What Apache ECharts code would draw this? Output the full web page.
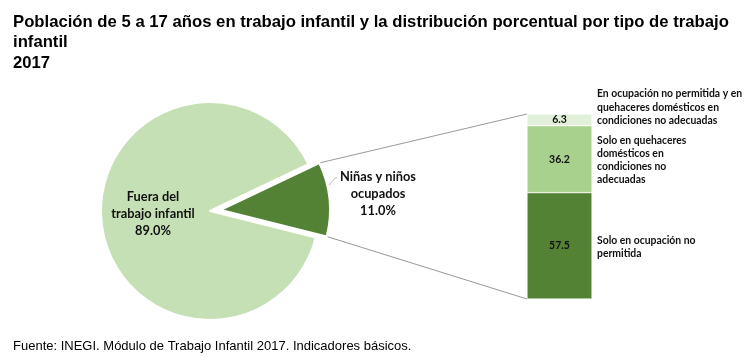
<!DOCTYPE html>
<html><head><meta charset="utf-8">
<script src="https://cdn.jsdelivr.net/npm/echarts@6/dist/echarts.min.js"></script>
<style>html,body{margin:0;padding:0;background:#fff}#c{width:744px;height:357px}</style>
</head><body><div id="c"></div>
<script>
const titleText = 'Población de 5 a 17 años en trabajo infantil y la distribución porcentual por tipo de trabajo\ninfantil\n2017';
const sourceText = 'Fuente: INEGI. Módulo de Trabajo Infantil 2017. Indicadores básicos.';
const pieNames = ['Niñas y niños\nocupados', 'Fuera del\ntrabajo infantil'];
const pieValues = [11.0, 89.0];
const barNames = ['Solo en ocupación no\npermitida', 'Solo en quehaceres\ndomésticos en\ncondiciones no\nadecuadas', 'En ocupación no permitida y en\nquehaceres domésticos en\ncondiciones no adecuadas'];
const barValues = [57.5, 36.2, 6.3];
const barCategory = ['2017'];

const pieColors = ['#548235', '#c5e0b4'];
const barColors = ['#548235', '#a9d18e', '#e2f0d9'];
const FONT = 'Lato';
const PIE_C = [210, 211], PIE_R = 109, PIE_START = 25.5, PIE_OFF = 11;
const GRID = {left: 527, top: 114, width: 65, height: 185};
const PIE_LABEL_POS = [[378, 194], [153, 213.5]];

// geometry of the exploded slice
const pieTotal = pieValues.reduce((a, b) => a + b, 0);
const span = pieValues[0] / pieTotal * 360;
const aS = PIE_START * Math.PI / 180, aE = (PIE_START - span) * Math.PI / 180, aM = (aS + aE) / 2;
const EXP_C = [PIE_C[0] + PIE_OFF * Math.cos(aM), PIE_C[1] - PIE_OFF * Math.sin(aM)];

const chart = echarts.init(document.getElementById('c'), null, {renderer: 'canvas'});

function pieSeries(center, visibleIndex) {
  return {
    type: 'pie', center: center, radius: PIE_R, startAngle: PIE_START, clockwise: true,
    emphasis: {disabled: true}, silent: true,
    labelLayout: function (p) {
      const pos = PIE_LABEL_POS[p.dataIndex];
      return {x: pos[0], y: pos[1], align: 'center', verticalAlign: 'middle'};
    },
    data: pieValues.map((v, i) => ({
      value: v, name: pieNames[i],
      itemStyle: i === visibleIndex ? {color: pieColors[i], borderColor: '#fff', borderWidth: 2} : {color: 'rgba(0,0,0,0)', borderWidth: 0},
      label: {
        show: i === visibleIndex, position: 'inside',
        formatter: p => p.name + '\n' + p.value.toFixed(1) + '%',
        fontFamily: FONT, fontWeight: 'bold', fontSize: 12.8, lineHeight: 17, color: '#111', align: 'center'
      },
      labelLine: {show: false}
    }))
  };
}

const barSeries = [];
barValues.forEach((v, i) => {
  barSeries.push({
    type: 'bar', stack: 'vals', barWidth: '100%', silent: true,
    data: [v], itemStyle: {color: barColors[i], borderColor: '#fff', borderWidth: 0.5},
    label: {show: true, position: 'inside', formatter: p => p.value.toFixed(1),
      fontFamily: FONT, fontWeight: 'bold', fontSize: 10.5, color: '#111'}
  });
});
barValues.forEach((v, i) => {
  barSeries.push({
    type: 'bar', stack: 'names', barWidth: '100%', barGap: '-100%', silent: true,
    data: [v], itemStyle: {color: 'rgba(0,0,0,0)'},
    label: {show: true, position: 'right', distance: 5, formatter: barNames[i],
      align: 'left', fontFamily: FONT, fontWeight: 'bold', fontSize: 10.4, lineHeight: 13.3, color: '#111',
      offset: i === 2 ? [0, -12.5] : [0, 1]}
  });
});

chart.setOption({
  animation: false,
  title: [
    {text: titleText, left: 8, top: 7, textStyle: {fontFamily: 'Liberation Sans', fontSize: 16.7, fontWeight: 'bold', lineHeight: 20.5, color: '#000'}},
    {text: sourceText, left: 8, top: 334, textStyle: {fontFamily: 'Liberation Sans', fontSize: 13, fontWeight: 'normal', lineHeight: 15, color: '#000'}}
  ],
  grid: {left: GRID.left, top: GRID.top, width: GRID.width, height: GRID.height},
  xAxis: {type: 'category', data: barCategory, show: false},
  yAxis: {type: 'value', min: 0, max: 100, show: false},
  series: [
    pieSeries(PIE_C, 1),
    pieSeries(EXP_C, 0),
    ...barSeries
  ]
});

// connector lines between exploded slice and the stacked bar, plus label leader
(function () {
  const cx = EXP_C[0], cy = EXP_C[1];
  const pTop = [cx + PIE_R * Math.cos(aS), cy - PIE_R * Math.sin(aS)];
  const pBot = [cx + PIE_R * Math.cos(aE), cy - PIE_R * Math.sin(aE)];
  const yTop = chart.convertToPixel({yAxisIndex: 0}, 100);
  const yBot = chart.convertToPixel({yAxisIndex: 0}, 0);
  const la = 13 * Math.PI / 180;
  const lp = [cx + (PIE_R + 2) * Math.cos(la), cy - (PIE_R + 2) * Math.sin(la)];
  chart.setOption({graphic: [
    {type: 'line', shape: {x1: pTop[0], y1: pTop[1], x2: GRID.left, y2: yTop}, style: {stroke: '#7f7f7f', lineWidth: 0.8}, silent: true},
    {type: 'line', shape: {x1: pBot[0], y1: pBot[1], x2: GRID.left, y2: yBot}, style: {stroke: '#7f7f7f', lineWidth: 0.8}, silent: true},
    {type: 'polyline', shape: {points: [lp, [lp[0] + 6, lp[1] - 7], [lp[0] + 8, lp[1] - 7]]}, style: {stroke: '#a6a6a6', lineWidth: 0.8, fill: null}, silent: true}
  ]});
})();
</script></body></html>
